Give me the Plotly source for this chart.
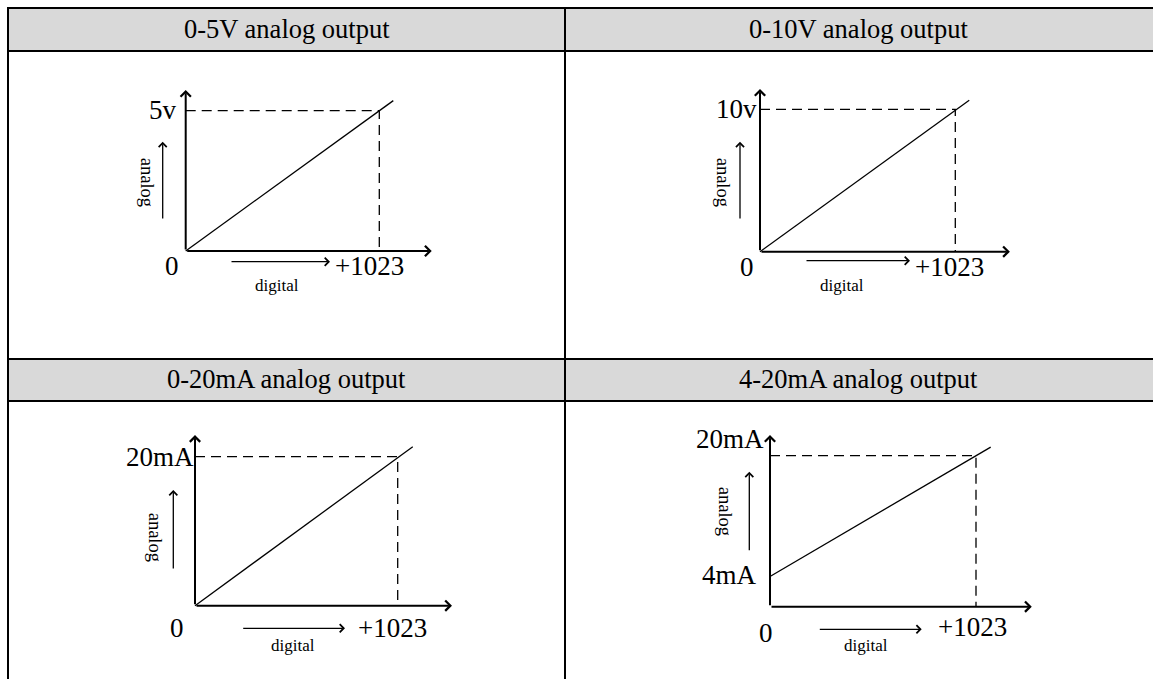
import plotly.graph_objects as go

W, H = 1153, 679
SERIF = "Liberation Serif"

# chart content
titles = ["0-5V analog output", "0-10V analog output",
          "0-20mA analog output", "4-20mA analog output"]
digital_full = 1023
analog_min = [0, 0, 0, 4]
analog_max = [5, 10, 20, 20]
line_end_digital = [1097, 1096, 1099, 1096]
line_end_analog = [5.36, 10.63, 21.34, 21.14]
axis_tip_digital = [1300, 1309, 1297, 1300]
axis_tip_analog = [5.74, 11.43, 22.9, 22.74]
top_labels = ["5v", "10v", "20mA", "20mA"]
low_labels = [None, None, None, "4mA"]
zero_label = "0"
full_label = "+1023"

# layout, in px of the 1153x679 page
cells = [(9, 52, 565, 359), (566, 52, 1153, 359),
         (9, 402, 565, 679), (566, 402, 1153, 679)]
origin_px = [(185.7, 251), (760, 251.7), (195, 605.7), (770, 606.7)]
full_px = [(379.3, 110.7), (955.3, 109.3), (397.7, 456.7), (976, 455.7)]
head_pos = [(286.5, 29), (858, 29), (286.5, 379), (858, 379)]
top_label_pos = [(179, 110), (759, 109.3), (196, 456.7), (766, 439)]
low_label_pos = [None, None, None, (759, 575)]
zero_pos = [(171.5, 266.5), (746.5, 266.7), (176.7, 628), (765.8, 632.7)]
full_pos = [(369, 265.8), (949.5, 266.7), (392.5, 628), (972.7, 627.3)]
dig_arrow = [(230, 330, 261.7), (805, 910, 260.7), (241.7, 345, 628.3), (818.3, 921.7, 629.3)]
dig_text = [(277, 285), (842, 285), (293.3, 645), (866, 645)]
ana_arrow = [(162.7, 220, 141.7), (740, 220, 141.7), (173.3, 570, 490), (749.3, 551.7, 471.7)]
ana_text = [(146.7, 182.5), (723, 181.7), (155, 536.7), (725, 510.8)]


def px(x):
    return x / W


def py(y):
    return 1 - y / H


fig = go.Figure()
layout = {}
annotations = []

for i in range(4):
    xid = 'x' if i == 0 else f'x{i + 1}'
    yid = 'y' if i == 0 else f'y{i + 1}'
    L, T, R, B = cells[i]
    ox, oy = origin_px[i]
    fx, fy = full_px[i]
    kx = digital_full / (fx - ox)
    ky = analog_max[i] / (oy - fy)
    axis_common = dict(visible=False, showgrid=False, zeroline=False, fixedrange=True)
    layout['xaxis' if i == 0 else f'xaxis{i + 1}'] = dict(
        domain=[px(L), px(R)], range=[(L - ox) * kx, (R - ox) * kx], anchor=yid, **axis_common)
    layout['yaxis' if i == 0 else f'yaxis{i + 1}'] = dict(
        domain=[py(B), py(T)], range=[(oy - B) * ky, (oy - T) * ky], anchor=xid, **axis_common)

    # transfer line
    fig.add_trace(go.Scatter(x=[0, line_end_digital[i]], y=[analog_min[i], line_end_analog[i]],
                             mode='lines', line=dict(color='black', width=1.3),
                             xaxis=xid, yaxis=yid, hoverinfo='skip', showlegend=False))
    # dashed full-scale guides
    fig.add_trace(go.Scatter(x=[0, digital_full, digital_full], y=[analog_max[i], analog_max[i], 0],
                             mode='lines', line=dict(color='black', width=1.3, dash='10px,6px'),
                             xaxis=xid, yaxis=yid, hoverinfo='skip', showlegend=False))

    # axes with arrow heads
    arrow = dict(text='', showarrow=True, arrowhead=4, arrowsize=1, arrowwidth=2,
                 arrowcolor='black', xref=xid, yref=yid, axref=xid, ayref=yid, standoff=0)
    annotations.append(dict(x=axis_tip_digital[i], y=0, ax=0, ay=0, **arrow))
    annotations.append(dict(x=0, y=axis_tip_analog[i], ax=0, ay=0, **arrow))

    # header
    annotations.append(dict(x=px(head_pos[i][0]), y=py(head_pos[i][1]), xref='paper', yref='paper',
                            text=titles[i], showarrow=False, xanchor='center', yanchor='middle',
                            font=dict(family=SERIF, size=26.5, color='black')))
    big = dict(family=SERIF, size=27, color='black')
    tx, ty = top_label_pos[i]
    annotations.append(dict(x=px(tx), y=py(ty), xref='paper', yref='paper', text=top_labels[i],
                            showarrow=False, xanchor='right', yanchor='middle', font=big))
    if low_labels[i]:
        lx, ly = low_label_pos[i]
        annotations.append(dict(x=px(lx), y=py(ly), xref='paper', yref='paper', text=low_labels[i],
                                showarrow=False, xanchor='right', yanchor='middle', font=big))
    annotations.append(dict(x=px(zero_pos[i][0]), y=py(zero_pos[i][1]), xref='paper', yref='paper',
                            text=zero_label, showarrow=False, xanchor='center', yanchor='middle', font=big))
    annotations.append(dict(x=px(full_pos[i][0]), y=py(full_pos[i][1]), xref='paper', yref='paper',
                            text=full_label, showarrow=False, xanchor='center', yanchor='middle', font=big))

    # small direction arrows with captions
    x0, x1, yy = dig_arrow[i]
    annotations.append(dict(x=px(x1), y=py(yy), xref='paper', yref='paper', ax=x0 - x1, ay=0,
                            text='', showarrow=True, arrowhead=4, arrowsize=1.2, arrowwidth=1.3,
                            arrowcolor='black', standoff=0))
    annotations.append(dict(x=px(dig_text[i][0]), y=py(dig_text[i][1]), xref='paper', yref='paper',
                            text='digital', showarrow=False, xanchor='center', yanchor='middle',
                            font=dict(family=SERIF, size=17, color='black')))
    ax_, yb, yt = ana_arrow[i]
    annotations.append(dict(x=px(ax_), y=py(yt), xref='paper', yref='paper', ax=0, ay=yb - yt,
                            text='', showarrow=True, arrowhead=4, arrowsize=1.2, arrowwidth=1.3,
                            arrowcolor='black', standoff=0))
    annotations.append(dict(x=px(ana_text[i][0]), y=py(ana_text[i][1]), xref='paper', yref='paper',
                            text='analog', showarrow=False, xanchor='center', yanchor='middle',
                            textangle=90, font=dict(family=SERIF, size=18.5, color='black')))

# table frame
shapes = []
for top, bottom in [(9, 50), (360, 400)]:
    shapes.append(dict(type='rect', xref='paper', yref='paper', x0=px(9), x1=1, y0=py(bottom),
                       y1=py(top), fillcolor='#d9d9d9', line=dict(width=0), layer='below'))
rule = dict(color='black', width=2)
for y in [8, 51, 359, 401]:
    shapes.append(dict(type='line', xref='paper', yref='paper', x0=px(7), x1=1,
                       y0=py(y), y1=py(y), line=rule))
for x in [8, 565]:
    shapes.append(dict(type='line', xref='paper', yref='paper', x0=px(x), x1=px(x),
                       y0=py(7), y1=0, line=rule))

fig.update_layout(width=W, height=H, margin=dict(l=0, r=0, t=0, b=0),
                  paper_bgcolor='white', plot_bgcolor='white',
                  showlegend=False, hovermode=False,
                  annotations=annotations, shapes=shapes, **layout)

# drop the default page margin so the figure fills the window exactly
fig.write_html("out.html", config={'displayModeBar': False, 'staticPlot': True},
               post_script="document.body.style.margin='0';document.body.style.overflow='hidden';")
